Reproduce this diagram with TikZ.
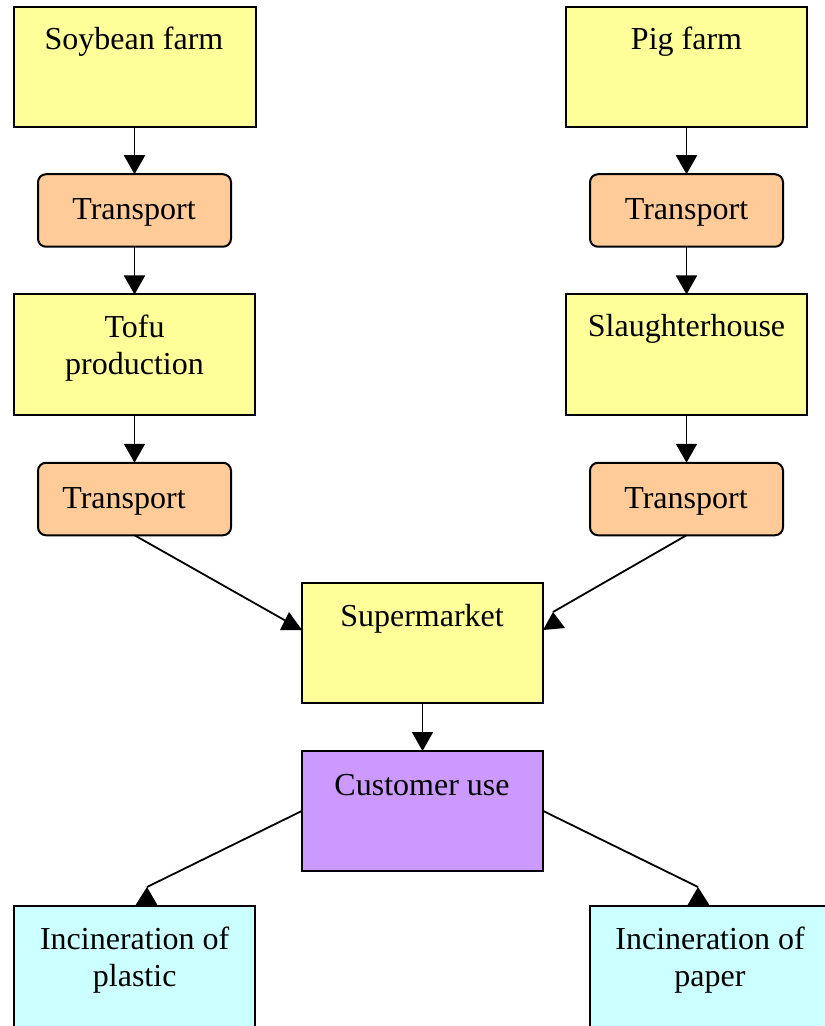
\documentclass[tikz,border=0pt]{standalone}
\usepackage{fontspec}
\setmainfont{Liberation Serif}
\usetikzlibrary{arrows.meta}
\definecolor{yel}{HTML}{FFFF99}
\definecolor{ora}{HTML}{FFCC99}
\definecolor{pur}{HTML}{CC99FF}
\definecolor{cya}{HTML}{CCFFFF}
\begin{document}
\begin{tikzpicture}[x=0.5pt,y=-0.5pt,
  box/.style={draw=black, line width=1pt, inner sep=0pt, outer sep=0pt},
  ybox/.style={box, fill=yel, minimum width=120.75pt, minimum height=60pt},
  tbox/.style={box, fill=ora, rounded corners=4pt, minimum width=96.5pt, minimum height=36.25pt},
  pbox/.style={box, fill=pur, minimum width=120.75pt, minimum height=60pt},
  cbox/.style={box, fill=cya, minimum width=120.5pt, minimum height=62pt},
  txt/.style={anchor=base, inner sep=0pt, align=center, font=\fontsize{16}{18.5}\selectfont},
  conn/.style={draw=black, line width=0.9pt},
  arr/.style={conn, -{Triangle[width=10.5pt,length=9.5pt]}},
  tri/.style={fill=black}]
\useasboundingbox (0,0) rectangle (824,1026);
% boxes
\node[ybox] (sf) at (135,67) {};
\node[ybox] (pf) at (686.5,67) {};
\node[tbox] (t1) at (134.5,210.5) {};
\node[tbox] (t2) at (686.5,210.5) {};
\node[ybox] (tofu) at (134.5,354.5) {};
\node[ybox] (sl) at (686.5,354.5) {};
\node[tbox] (t3) at (134.5,499) {};
\node[tbox] (t4) at (686.5,499) {};
\node[ybox] (sm) at (422.5,643) {};
\node[pbox] (cu) at (422.5,811) {};
\node[cbox] (ip) at (134.5,968) {};
\node[cbox] (pp) at (710,968) {};
% texts (base anchor = baseline of last line)
\node[txt] (sfT) at (134,50) {Soybean farm};
\node[txt] (pfT) at (686.5,50) {Pig farm};
\node[txt] (t1T) at (134,220) {Transport};
\node[txt] (t2T) at (686.5,220) {Transport};
\node[txt] (tofuT) at (134.5,374) {Tofu\\production};
\node[txt] (slT) at (686.5,336) {Slaughterhouse};
\node[txt] (t3T) at (124,508) {Transport};
\node[txt] (t4T) at (686,508) {Transport};
\node[txt] (smT) at (422,626) {Supermarket};
\node[txt] (cuT) at (422,795) {Customer use};
\node[txt] (ipT) at (134.7,986) {Incineration of\\plastic};
\node[txt] (ppT) at (710,986) {Incineration of\\paper};
% vertical connectors
\draw[arr] (sf.south -| t1.north) -- (t1.north);
\draw[arr] (pf.south -| t2.north) -- (t2.north);
\draw[arr] (t1.south) -- (tofu.north -| t1.south);
\draw[arr] (t2.south) -- (sl.north -| t2.south);
\draw[arr] (tofu.south -| t3.north) -- (t3.north);
\draw[arr] (sl.south -| t4.north) -- (t4.north);
\draw[arr] (sm.south) -- (cu.north);
% diagonal connectors with upright heads
\coordinate (a1) at (302,630);
\coordinate (a2) at (553,612);
\coordinate (a3) at (147,887);
\coordinate (a4) at (698,887);
\draw[conn] (t3.south) -- (a1);
\fill[tri] (280,630) -- (302,630) -- (289,612) -- cycle;
\draw[conn] (t4.south) -- (a2);
\fill[tri] (543,630) -- (565,628) -- (553,612) -- cycle;
\draw[conn] (cu.west) -- (a3);
\fill[tri] (135,906) -- (158,906) -- (147,887) -- cycle;
\draw[conn] (cu.east) -- (a4);
\fill[tri] (687,906) -- (710,906) -- (698,887) -- cycle;
\end{tikzpicture}
\end{document}
